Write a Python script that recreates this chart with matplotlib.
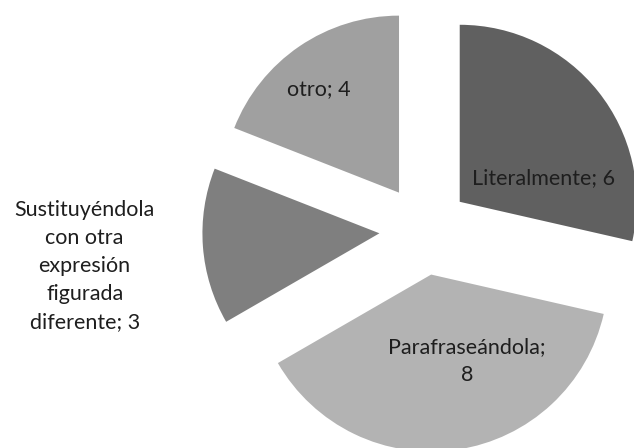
import numpy as np
import matplotlib
matplotlib.use("Agg")
import matplotlib.pyplot as plt

# data
categories = ["Literalmente", "Parafraseándola", "Sustituyéndola con otra expresión figurada diferente", "otro"]
values = [6, 8, 3, 4]
label_texts = ["Literalmente; 6", "Parafraseándola;\n8",
               "Sustituyéndola\ncon otra\nexpresión\nfigurada\ndiferente; 3", "otro; 4"]

# styles
colors = ["#606060", "#b3b3b3", "#7f7f7f", "#a0a0a0"]
explode = [0.255] * 4
label_rho = [0.494, 0.53, 1.676, 0.74]
label_phi = [15.9, -67.5, 186.4, 127.6]

plt.rcParams['font.family'] = ['Lato', 'DejaVu Sans']

fig = plt.figure(figsize=(6.34, 4.48), dpi=100)
ax = fig.add_axes([0, 0, 1, 1])
wedges, _ = ax.pie(values, colors=colors, explode=explode, startangle=90,
                   counterclock=False, radius=1.0,
                   wedgeprops=dict(linewidth=0))
ax.set_aspect('auto')
ax.set_xlim(-2.398, 1.184)
ax.set_ylim(-1.232, 1.299)
ax.axis('off')

for w, txt, rho, phi in zip(wedges, label_texts, label_rho, label_phi):
    cx, cy = w.center
    x = cx + rho * np.cos(np.radians(phi))
    y = cy + rho * np.sin(np.radians(phi))
    ax.text(x, y, txt, ha='center', va='center', fontsize=15.5,
            color='#1e1e1e', linespacing=1.5)

fig.savefig("out.png", dpi=100)
